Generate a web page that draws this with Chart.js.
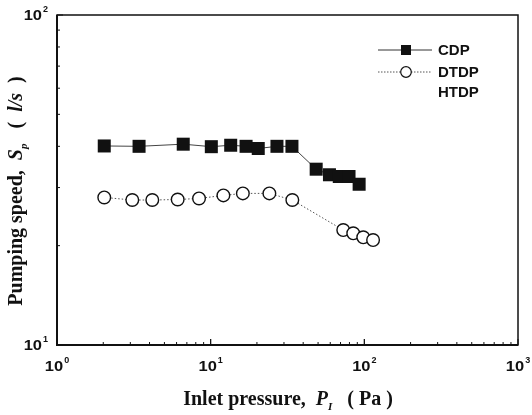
<!DOCTYPE html>
<html>
<head>
<meta charset="utf-8">
<script src="https://cdn.jsdelivr.net/npm/chart.js@4"></script>
<style>
  html, body { margin: 0; padding: 0; background: #fff; }
  #speedChart { display: block; }
</style>
</head>
<body>
<canvas id="speedChart" width="532" height="415"></canvas>
<script>
// Inlet pressure (Pa) and pumping speed (l/s)
var cdpP  = [2.03, 3.42, 6.63, 10.1, 13.5, 17.0, 20.4, 27.0, 33.8, 48.6, 59.3, 68.7, 79.5, 92.5];
var cdpS  = [40.1, 40.0, 40.6, 39.9, 40.3, 40.0, 39.4, 40.0, 40.0, 34.1, 32.8, 32.4, 32.4, 30.7];
var dtdpP = [2.03, 3.09, 4.17, 6.1, 8.4, 12.1, 16.2, 24.1, 34.0, 72.9, 84.7, 98.4, 114];
var dtdpS = [28.0, 27.5, 27.5, 27.6, 27.8, 28.4, 28.8, 28.8, 27.5, 22.3, 21.8, 21.2, 20.8];
var htdpP = [];
var htdpS = [];

var seriesNames = ['CDP', 'DTDP', 'HTDP'];
var xTickExps = [0, 1, 2, 3];
var yTickExps = [1, 2];

function toPoints(xs, ys) {
  return xs.map(function (x, i) { return { x: x, y: ys[i] }; });
}

// draws frame, inward ticks, power-of-ten labels, axis titles and legend
const framePlugin = {
  id: 'frame',
  afterDraw(chart) {
    const c = chart.ctx, a = chart.chartArea;
    const xs = chart.scales.x, ys = chart.scales.y;
    c.save();
    c.strokeStyle = '#111';
    c.lineWidth = 1.5;
    c.strokeRect(a.left, a.top, a.right - a.left, a.bottom - a.top);
    c.lineWidth = 2;
    c.beginPath();
    c.moveTo(a.left, a.top); c.lineTo(a.left, a.bottom); c.lineTo(a.right, a.bottom);
    c.stroke();

    c.lineWidth = 1;
    c.beginPath();
    for (let e = 0; e < 3; e++) {
      for (let m = 1; m <= 10; m++) {
        const px = xs.getPixelForValue(m * Math.pow(10, e));
        const len = (m === 1 || m === 10) ? 6 : 3;
        c.moveTo(px, a.bottom); c.lineTo(px, a.bottom - len);
      }
    }
    for (let m = 1; m <= 10; m++) {
      const py = ys.getPixelForValue(m * 10);
      const len = (m === 1 || m === 10) ? 6 : 3;
      c.moveTo(a.left, py); c.lineTo(a.left + len, py);
    }
    c.stroke();

    c.fillStyle = '#111';
    const BIG = 'bold 15px "Liberation Sans", Arial, sans-serif';
    const SUP = 'bold 9px "Liberation Sans", Arial, sans-serif';
    function power(x, y, e, align) {
      c.font = BIG;
      const w1 = c.measureText('10').width * 1.1;
      c.font = SUP;
      const w2 = c.measureText(String(e)).width;
      const start = align === 'right' ? x - w1 - w2 - 1 : x - (w1 + w2 + 1) / 2;
      c.textAlign = 'left';
      c.textBaseline = 'alphabetic';
      c.save();
      c.translate(start, y);
      c.scale(1.1, 1);
      c.font = BIG;
      c.fillText('10', 0, 0);
      c.restore();
      c.font = SUP;
      c.fillText(String(e), start + w1 + 1, y - 8);
    }
    xTickExps.forEach(function (e) {
      power(xs.getPixelForValue(Math.pow(10, e)), a.bottom + 26, e, 'center');
    });
    yTickExps.forEach(function (e) {
      power(a.left - 9, ys.getPixelForValue(Math.pow(10, e)) + 5, e, 'right');
    });

    // axis titles, pieces of serif text with italic and subscript parts
    function runs(parts) {
      let w = 0;
      parts.forEach(function (p) { c.font = p.f; p.w = c.measureText(p.t).width; w += p.w; });
      return w;
    }
    const B = 'bold 20px "Liberation Serif", "Times New Roman", serif';
    const BI = 'italic bold 20px "Liberation Serif", "Times New Roman", serif';
    const SUB = 'italic bold 11px "Liberation Serif", "Times New Roman", serif';
    function drawRuns(parts, x0, y0) {
      let x = x0;
      parts.forEach(function (p) {
        c.font = p.f;
        c.fillText(p.t, x, y0 + (p.dy || 0));
        x += p.w;
      });
    }
    const xt = [
      { t: 'Inlet pressure,  ', f: B },
      { t: 'P', f: BI },
      { t: 'I', f: SUB, dy: 5 },
      { t: '   ( Pa )', f: B }
    ];
    c.textAlign = 'left';
    const xw = runs(xt);
    drawRuns(xt, 288 - xw / 2, 405);

    const yt = [
      { t: 'Pumping speed,  ', f: B },
      { t: 'S', f: BI },
      { t: 'p', f: SUB, dy: 5 },
      { t: '   (  ', f: B },
      { t: 'l/s', f: BI },
      { t: '  )', f: B }
    ];
    const yw = runs(yt);
    c.save();
    c.translate(22, 191);
    c.rotate(-Math.PI / 2);
    drawRuns(yt, -yw / 2, 0);
    c.restore();

    // legend
    const lx0 = 378, lx1 = 432, mx = 406, tx = 438;
    const rows = [50, 72, 92];
    c.font = 'bold 15px "Liberation Sans", Arial, sans-serif';
    c.textBaseline = 'middle';
    rows.forEach(function (ly, i) {
      if (i === 0) {
        c.strokeStyle = '#333'; c.lineWidth = 1; c.setLineDash([]);
        c.beginPath(); c.moveTo(lx0, ly); c.lineTo(lx1, ly); c.stroke();
        c.fillStyle = '#111';
        c.fillRect(mx - 5, ly - 5, 10, 10);
      } else if (i === 1) {
        c.strokeStyle = '#555'; c.lineWidth = 1; c.setLineDash([1.5, 1.5]);
        c.beginPath(); c.moveTo(lx0, ly); c.lineTo(lx1, ly); c.stroke();
        c.setLineDash([]);
        c.fillStyle = '#fff'; c.strokeStyle = '#111'; c.lineWidth = 1.2;
        c.beginPath(); c.arc(mx, ly, 5.3, 0, Math.PI * 2); c.fill(); c.stroke();
      }
      c.fillStyle = '#111';
      c.fillText(seriesNames[i], tx, ly + 1);
    });
    c.restore();
  }
};

const ctx = document.getElementById('speedChart');
new Chart(ctx, {
  type: 'line',
  data: {
    datasets: [{
      label: seriesNames[0],
      data: toPoints(cdpP, cdpS),
      borderColor: '#444',
      borderWidth: 1,
      pointStyle: 'rect',
      pointRadius: 9.2,
      pointBackgroundColor: '#111',
      pointBorderColor: '#111',
      pointBorderWidth: 0,
      tension: 0
    }, {
      label: seriesNames[1],
      data: toPoints(dtdpP, dtdpS),
      borderColor: '#555',
      borderWidth: 1,
      borderDash: [1.5, 2],
      pointStyle: 'circle',
      pointRadius: 6.3,
      pointBackgroundColor: '#fff',
      pointBorderColor: '#111',
      pointBorderWidth: 1.4,
      tension: 0
    }, {
      label: seriesNames[2],
      data: toPoints(htdpP, htdpS),
      borderColor: '#111',
      pointRadius: 0
    }]
  },
  options: {
    responsive: false,
    animation: false,
    devicePixelRatio: 1,
    layout: { padding: { left: 57, right: 14, top: 15, bottom: 70 } },
    plugins: {
      legend: { display: false },
      tooltip: { enabled: false }
    },
    scales: {
      x: { type: 'logarithmic', min: 1, max: 1000, display: false },
      y: { type: 'logarithmic', min: 10, max: 100, display: false }
    }
  },
  plugins: [framePlugin]
});
</script>
</body>
</html>
